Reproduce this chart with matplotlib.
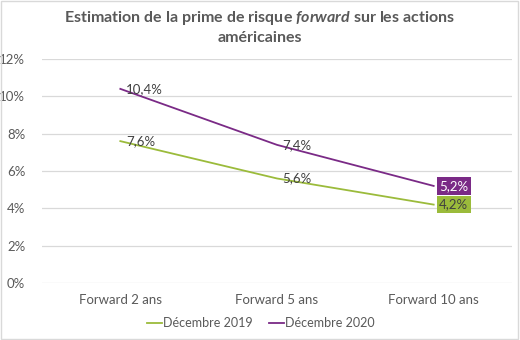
import matplotlib.pyplot as plt
from matplotlib.ticker import FuncFormatter

categories = ['Forward 2 ans', 'Forward 5 ans', 'Forward 10 ans']
dec_2019 = [7.6, 5.6, 4.2]
dec_2020 = [10.4, 7.4, 5.2]
series_names = ['Décembre 2019', 'Décembre 2020']

green = '#9BBB3B'
purple = '#7A2A86'
grey_txt = '#595959'

plt.rcParams['font.family'] = ['Lato', 'DejaVu Sans']
plt.rcParams['mathtext.fontset'] = 'custom'
plt.rcParams['mathtext.it'] = 'Lato:italic:bold'
plt.rcParams['mathtext.rm'] = 'Lato:bold'

fig = plt.figure(figsize=(5.2, 3.4), dpi=100)
ax = fig.add_axes([42/520, 1 - 283/340, 470/520, 224/340])

x = range(len(categories))
ax.plot(x, dec_2019, color=green, lw=1.3, label=series_names[0])
ax.plot(x, dec_2020, color=purple, lw=1.3, label=series_names[1])

ax.set_xlim(-0.5, 2.5)
ax.set_ylim(0, 12)
ax.set_yticks(range(0, 13, 2))
ax.yaxis.set_major_formatter(FuncFormatter(lambda v, p: f'{v:.0f}%'))
ax.set_xticks(list(x))
ax.set_xticklabels(categories)
ax.tick_params(length=0, labelsize=9.5, colors=grey_txt)
ax.tick_params(axis='y', pad=12)
ax.tick_params(axis='x', pad=8)
ax.grid(axis='y', color='#D9D9D9', lw=0.9)
ax.set_axisbelow(True)
for s in ax.spines.values():
    s.set_visible(False)

def fmt(v):
    return f'{v:.1f}%'.replace('.', ',')

for i, (a, b) in enumerate(zip(dec_2019, dec_2020)):
    if i < len(categories) - 1:
        ax.annotate(fmt(a), (i, a), xytext=(4, 0), textcoords='offset points',
                    va='center', ha='left', fontsize=9.5, color='#404040')
        ax.annotate(fmt(b), (i, b), xytext=(4, 0), textcoords='offset points',
                    va='center', ha='left', fontsize=9.5, color='#404040')
    else:
        ax.annotate(fmt(a), (i, a), xytext=(4, 0), textcoords='offset points',
                    va='center', ha='left', fontsize=9.5, color='#404040',
                    bbox=dict(boxstyle='square,pad=0.2', fc=green, ec='none'))
        ax.annotate(fmt(b), (i, b), xytext=(4, 0), textcoords='offset points',
                    va='center', ha='left', fontsize=9.5, color='white',
                    bbox=dict(boxstyle='square,pad=0.2', fc=purple, ec='none'))

fig.text(0.5, 1 - 18/340, 'Estimation de la prime de risque $\\it{forward}$ sur les actions',
         ha='center', va='center', fontsize=11.5, fontweight='bold', color=grey_txt)
fig.text(0.5, 1 - 38/340, 'américaines', ha='center', va='center',
         fontsize=11.5, fontweight='bold', color=grey_txt)

ax.legend(loc='center', bbox_to_anchor=(261/520, 1 - 323/340),
          bbox_transform=fig.transFigure, ncol=2, frameon=False,
          fontsize=9, handlelength=1.2, handletextpad=0.1, columnspacing=1.3,
          labelcolor=grey_txt)

fig.patches.append(plt.Rectangle((0.002, 0.003), 0.995, 0.994, transform=fig.transFigure,
                                 fill=False, ec='#D9D9D9', lw=1))

fig.savefig('out.png', dpi=100)
